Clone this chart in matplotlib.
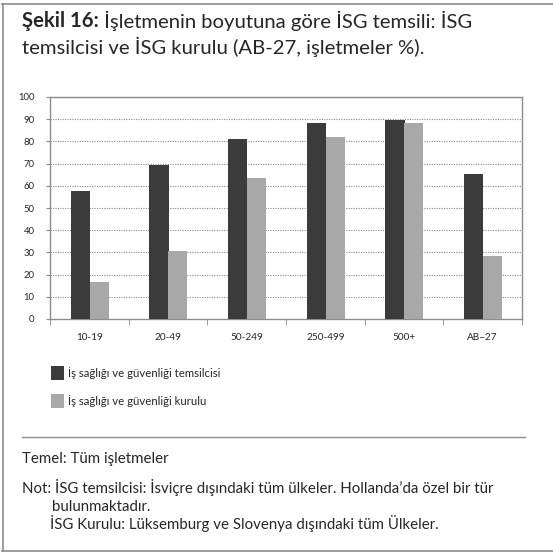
import matplotlib
matplotlib.use("Agg")
import matplotlib.pyplot as plt
from matplotlib.lines import Line2D
from matplotlib.patches import Rectangle

# values (% of establishments)
categories = ["10-19", "20-49", "50-249", "250-499", "500+", "AB\u201327"]
representative = [57.5, 69.5, 81, 88.5, 89.5, 65.5]
committee = [16.5, 30.5, 63.5, 82, 88.5, 28.5]
series_names = ["\u0130\u015f sa\u011fl\u0131\u011f\u0131 ve g\u00fcvenli\u011fi temsilcisi",
                "\u0130\u015f sa\u011fl\u0131\u011f\u0131 ve g\u00fcvenli\u011fi kurulu"]
yticks = list(range(0, 101, 10))

dark = "#3b3b3b"
light = "#a8a8a8"
frame = "#8c8c8c"
txt = "#262626"
title_font = ["Lato", "DejaVu Sans"]
chart_font = ["Lato", "DejaVu Sans"]

W = H = 553
fig = plt.figure(figsize=(5.53, 5.53), dpi=100)
fig.patch.set_facecolor("white")

# outer frame (top, left, bottom)
for xs, ys in [((2, 553), (4, 4)), ((2.5, 2.5), (4, 551)), ((2, 553), (551, 551))]:
    fig.add_artist(Line2D([x / W for x in xs], [1 - y / H for y in ys],
                          color=frame, lw=1.2))

# title, bold prefix + regular rest
title_size = 14.6
t1 = fig.text(22 / W, 1 - 27 / H, "\u015eekil 16:", fontsize=title_size, fontweight="bold",
              family=title_font, color=txt, va="baseline")
fig.add_artist(plt.Annotation(" \u0130\u015fletmenin boyutuna g\u00f6re \u0130SG temsili: \u0130SG",
                              xy=(1, 0), xycoords=t1, va="bottom", ha="left",
                              fontsize=title_size, family=title_font, color=txt))
fig.text(22 / W, 1 - 54 / H, "temsilcisi ve \u0130SG kurulu (AB-27, i\u015fletmeler %).",
         fontsize=title_size, family=title_font, color=txt, va="baseline")

# bar chart
ax = fig.add_axes([50 / W, 1 - 319 / H, 472 / W, 222 / H])
x = list(range(len(categories)))
bw = 0.245
ax.bar([i - 0.115 for i in x], representative, width=bw, color=dark, zorder=3)
ax.bar([i + 0.125 for i in x], committee, width=bw, color=light, zorder=3)
ax.set_xlim(-0.5, len(categories) - 0.5)
ax.set_ylim(0, 100)
ax.set_yticks(yticks)
ax.set_yticklabels([str(v) for v in yticks], family=chart_font, fontsize=6.8, color=txt)
ax.set_xticks(x)
ax.set_xticklabels(categories, family=chart_font, fontsize=7.2, color=txt)
ax.set_xticks([i - 0.5 for i in range(len(categories) + 1)], minor=True)
ax.tick_params(axis="x", which="major", length=0, pad=10)
ax.tick_params(axis="x", which="minor", length=4, color=frame, direction="out")
ax.tick_params(axis="y", length=3, color=frame, pad=8)
for v in yticks[1:-1]:
    ax.axhline(v, color="#8a8a8a", lw=0.8, ls=(0, (1, 1.2)), zorder=1)
for s in ax.spines.values():
    s.set_color(frame)
    s.set_linewidth(1.0)

# legend
for k, (name, col) in enumerate(zip(series_names, [dark, light])):
    yc = 373 + 28 * k
    fig.add_artist(Rectangle((51 / W, 1 - (yc + 7) / H), 13 / W, 14 / H,
                             facecolor=col, edgecolor="none"))
    fig.text(68 / W, 1 - yc / H, name, family=chart_font, fontsize=8.2,
             color=txt, va="center")

# separator and notes
fig.add_artist(Line2D([22 / W, 525 / W], [1 - 437 / H] * 2, color=frame, lw=1.0))
notes_size = 10.8
fig.text(22 / W, 1 - 463 / H, "Temel: T\u00fcm i\u015fletmeler", family=title_font,
         fontsize=notes_size, color=txt, va="baseline")
fig.text(22 / W, 1 - 493 / H,
         "Not: \u0130SG temsilcisi: \u0130svi\u00e7re d\u0131\u015f\u0131ndaki t\u00fcm \u00fclkeler. "
         "Hollanda\u2019da \u00f6zel bir t\u00fcr",
         family=title_font, fontsize=notes_size, color=txt, va="baseline")
fig.text(52 / W, 1 - 511 / H, "bulunmaktad\u0131r.", family=title_font,
         fontsize=notes_size, color=txt, va="baseline")
fig.text(50 / W, 1 - 529 / H,
         "\u0130SG Kurulu: L\u00fcksemburg ve Slovenya d\u0131\u015f\u0131ndaki t\u00fcm \u00dclkeler.",
         family=title_font, fontsize=notes_size, color=txt, va="baseline")

fig.savefig("out.png", dpi=100, facecolor="white")
